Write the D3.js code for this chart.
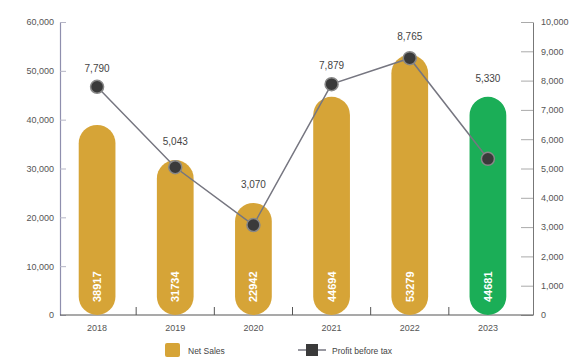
<!DOCTYPE html>
<html>
<head>
<meta charset="utf-8">
<script src="https://cdn.jsdelivr.net/npm/d3@7"></script>
<style>
  html, body { margin: 0; padding: 0; background: #fff; }
  svg { display: block; font-family: "Liberation Sans", Arial, sans-serif; }
</style>
</head>
<body>
<svg id="chart" width="578" height="362"></svg>
<script>
// Yearly figures: net sales (left axis) and profit before tax (right axis)
const years = ["2018", "2019", "2020", "2021", "2022", "2023"];
const netSales = [38917, 31734, 22942, 44694, 53279, 44681];
const profitBeforeTax = [7790, 5043, 3070, 7879, 8765, 5330];
const leftTicks = [0, 10000, 20000, 30000, 40000, 50000, 60000];
const rightTicks = [0, 1000, 2000, 3000, 4000, 5000, 6000, 7000, 8000, 9000, 10000];
const legendLabels = ["Net Sales", "Profit before tax"];

const svg = d3.select("#chart");
const fmt = d3.format(",");

const x = d3.scaleBand().domain(years).range([58, 527]).paddingInner(0.53).paddingOuter(0.265);
const yL = d3.scaleLinear().domain([0, 60000]).range([315, 22]);
const yR = d3.scaleLinear().domain([0, 10000]).range([315, 22]);

const gold = "#D6A437";
const green = "#1BAE57";

// left axis
const gL = svg.append("g").attr("transform", "translate(60,0)")
  .call(d3.axisLeft(yL).tickValues(leftTicks).tickFormat(fmt).tickSizeInner(-6).tickSizeOuter(0).tickPadding(6));
gL.select(".domain").attr("stroke", "#8f8fae").attr("stroke-width", 1.2);
gL.selectAll(".tick line").attr("stroke", "#b5b5c5");
gL.selectAll(".tick text").attr("fill", "#555").attr("font-size", 9);

// right axis
const gR = svg.append("g").attr("transform", "translate(533,0)")
  .call(d3.axisRight(yR).tickValues(rightTicks).tickFormat(fmt).tickSizeInner(-12).tickSizeOuter(0).tickPadding(8));
gR.select(".domain").attr("stroke", "#777").attr("stroke-width", 1);
gR.selectAll(".tick line").attr("stroke", "#aaa");
gR.selectAll(".tick text").attr("fill", "#555").attr("font-size", 9);

// bottom axis: ticks between the categories
const gB = svg.append("g").attr("transform", "translate(0,315)");
gB.append("line").attr("x1", 60).attr("x2", 533).attr("stroke", "#555").attr("stroke-width", 1.2);
gB.selectAll("line.sep").data(years.slice(1)).join("line").attr("class", "sep")
  .attr("x1", d => x(d) - x.step() * x.paddingInner() / 2)
  .attr("x2", d => x(d) - x.step() * x.paddingInner() / 2)
  .attr("y1", 0).attr("y2", -8).attr("stroke", "#555");
gB.selectAll("text").data(years).join("text")
  .attr("x", d => x(d) + x.bandwidth() / 2).attr("y", 16)
  .attr("text-anchor", "middle").attr("font-size", 9).attr("fill", "#555").text(d => d);

// pill-shaped bars
const bw = x.bandwidth();
const r = bw / 2;
svg.append("g").selectAll("path").data(years).join("path")
  .attr("fill", (d, i) => i === years.length - 1 ? green : gold)
  .attr("d", (d, i) => {
    const x0 = x(d), top = yL(netSales[i]), bottom = yL(0);
    return `M${x0},${bottom - r} L${x0},${top + r} A${r},${r} 0 0 1 ${x0 + bw},${top + r} ` +
           `L${x0 + bw},${bottom - r} A${r},${r} 0 0 1 ${x0},${bottom - r} Z`;
  });

// vertical value labels inside bars
svg.append("g").selectAll("text").data(years).join("text")
  .attr("transform", d => `translate(${x(d) + bw / 2 + 4},302) rotate(-90)`)
  .attr("font-size", 11).attr("font-weight", "bold").attr("fill", "#fff")
  .text((d, i) => netSales[i]);

// profit line and markers
const cx = d => x(d) + bw / 2;
svg.append("path")
  .datum(years)
  .attr("fill", "none").attr("stroke", "#767680").attr("stroke-width", 1.5)
  .attr("d", d3.line().x(cx).y((d, i) => yR(profitBeforeTax[i])));
svg.append("g").selectAll("circle").data(years).join("circle")
  .attr("cx", cx).attr("cy", (d, i) => yR(profitBeforeTax[i])).attr("r", 6.5)
  .attr("fill", "#3a3a3a").attr("stroke", "#888").attr("stroke-width", 1.5);

// profit labels above the higher of bar top and marker
svg.append("g").selectAll("text").data(years).join("text")
  .attr("x", cx)
  .attr("y", (d, i) => Math.min(yR(profitBeforeTax[i]), yL(netSales[i])) - 15)
  .attr("text-anchor", "middle").attr("font-size", 10).attr("fill", "#444")
  .text((d, i) => fmt(profitBeforeTax[i]));

// legend
const lg = svg.append("g");
lg.append("rect").attr("x", 165).attr("y", 343).attr("width", 15).attr("height", 14).attr("rx", 2).attr("fill", gold);
lg.append("text").attr("x", 188).attr("y", 354).attr("font-size", 8.5).attr("fill", "#444").text(legendLabels[0]);
lg.append("line").attr("x1", 298).attr("x2", 326).attr("y1", 350).attr("y2", 350).attr("stroke", "#767680").attr("stroke-width", 1.5);
lg.append("rect").attr("x", 306).attr("y", 344).attr("width", 12).attr("height", 12).attr("fill", "#3a3a3a");
lg.append("text").attr("x", 332).attr("y", 354).attr("font-size", 8.5).attr("fill", "#444").text(legendLabels[1]);
</script>
</body>
</html>
